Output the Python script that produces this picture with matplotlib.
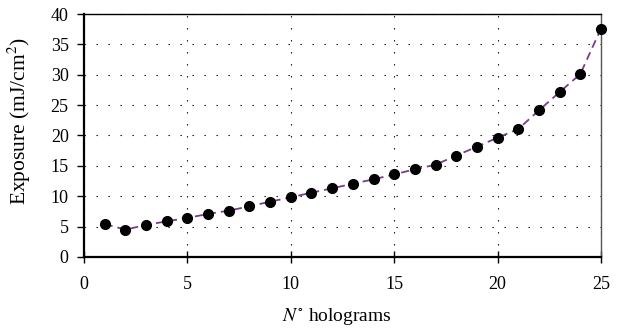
import matplotlib
matplotlib.use('Agg')
import matplotlib.pyplot as plt
import numpy as np

plt.rcParams['font.family'] = ['Liberation Serif', 'DejaVu Serif']
plt.rcParams['mathtext.fontset'] = 'stix'

n_holograms = np.arange(1, 26)
exposure = [5.44, 4.5, 5.28, 5.87, 6.43, 7.09, 7.63, 8.34, 9.11, 9.82,
            10.59, 11.3, 12.07, 12.78, 13.6, 14.43, 15.2, 16.68, 18.16, 19.64,
            21.07, 24.13, 27.15, 30.11, 37.6]

fig = plt.figure(figsize=(6.27, 3.31), dpi=100)
ax = fig.add_axes([0.134, 0.2236, 0.8245, 0.7341])

ax.plot(n_holograms, exposure, linestyle=(0, (4.5, 2.8)), color='#7b3a8e',
        linewidth=1.3, zorder=2)
ax.plot(n_holograms, exposure, 'o', color='black', markersize=7, zorder=3,
        clip_on=False)

ax.set_xlim(0, 25)
ax.set_ylim(0, 40)
ax.set_xticks(np.arange(0, 26, 5))
ax.set_yticks(np.arange(0, 41, 5))
ax.grid(True, color='black', linestyle=(0, (1.2, 9.6)), linewidth=0.8)
ax.set_axisbelow(True)

for side in ['left', 'bottom']:
    ax.spines[side].set_linewidth(1.6)
ax.spines['top'].set_linewidth(1.0)
ax.spines['right'].set_linewidth(1.0)
ax.spines['right'].set_color('#555555')

ax.tick_params(axis='y', direction='out', length=5, width=1,
               labelsize=13, pad=6)
ax.tick_params(axis='x', direction='inout', length=8, width=1,
               labelsize=13, pad=10)

ax.set_xlabel(r'$N^{\circ}$ holograms', fontsize=14)
ax.set_ylabel(r'Exposure (mJ/cm$^2$)', fontsize=15.5)
ax.xaxis.set_label_coords(0.49, -0.2)
ax.yaxis.set_label_coords(-0.098, 0.56)

fig.savefig('out.png', dpi=100)
